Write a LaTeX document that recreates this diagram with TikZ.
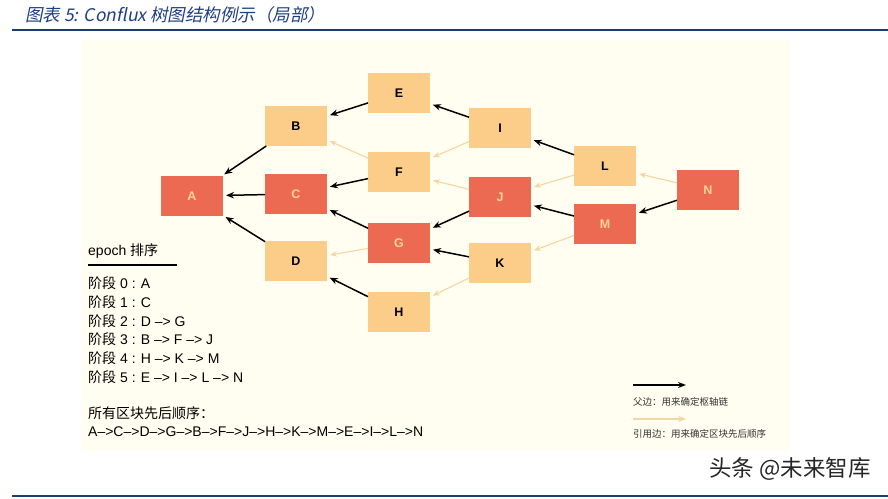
\documentclass[tikz,border=0pt]{standalone}
\usepackage{fontspec}
\setmainfont{Liberation Sans}
\newfontfamily\cjk{Noto Sans CJK SC}
\newfontfamily\titlefont[FakeSlant=0.2]{Noto Sans CJK SC}
\usetikzlibrary{arrows.meta}
\definecolor{lightbox}{HTML}{FBCD88}
\definecolor{redbox}{HTML}{EC6A52}
\definecolor{redtext}{HTML}{FAD39B}
\definecolor{refline}{HTML}{F4D6A2}
\definecolor{bgcream}{HTML}{FFFEF0}
\definecolor{titleblue}{HTML}{1F3F86}
\definecolor{lineblue}{HTML}{1F3C70}
\newcommand{\zh}[1]{{\cjk #1}}
\tikzset{
  blk/.style={minimum width=62pt, minimum height=40pt, inner sep=0pt, outer sep=0pt,
    fill=lightbox, font=\fontsize{12.5}{15}\selectfont\bfseries},
  redblk/.style={blk, fill=redbox, text=redtext},
  parent/.style={-{Stealth[length=8pt,width=6.5pt]}, line width=1.5pt, black, shorten >=3pt},
  refe/.style={-{Stealth[length=7pt,width=5.5pt]}, line width=1.1pt, refline, shorten >=3pt},
  txt/.style={anchor=west, inner sep=0pt, font=\fontsize{14}{16}\selectfont},
  legtxt/.style={anchor=west, inner sep=0pt, text=black!80, font=\fontsize{9.5}{11}\selectfont\cjk}
}
\begin{document}
\begin{tikzpicture}[x=1pt,y=-1pt]
\useasboundingbox (0,0) rectangle (888,498);
\fill[white] (0,0) rectangle (888,498);
\fill[bgcream] (82,40) rectangle (790,451);
% title and rules
\node[anchor=west, inner sep=0pt, text=titleblue, font=\fontsize{17.5}{19}\selectfont\titlefont] (title) at (25,15) {图表 5:  Conflux 树图结构例示（局部）};
\draw[lineblue, line width=2pt] (12,30) -- (888,30);
\draw[lineblue, line width=2pt] (12,496) -- (888,496);
% nodes
\node[redblk] (A) at (192,196) {A};
\node[blk] (B) at (296,126) {B};
\node[redblk] (C) at (296,194) {C};
\node[blk] (D) at (296,261) {D};
\node[blk] (E) at (399,93) {E};
\node[blk] (F) at (399,172) {F};
\node[redblk] (G) at (399,243) {G};
\node[blk] (H) at (399,312) {H};
\node[blk] (I) at (500,128) {I};
\node[redblk] (J) at (500,197) {J};
\node[blk] (K) at (500,263) {K};
\node[blk] (L) at (605,166) {L};
\node[redblk] (M) at (605,224) {M};
\node[redblk] (N) at (708,190) {N};
% reference edges
\draw[refe] (F) -- (B);
\draw[refe] (G) -- (D);
\draw[refe] (I) -- (F);
\draw[refe] (J) -- (F);
\draw[refe] (K) -- (H);
\draw[refe] (L) -- (J);
\draw[refe] (M) -- (K);
\draw[refe] (N) -- (L);
% parent edges
\draw[parent] (B) -- (A);
\draw[parent] (C) -- (A);
\draw[parent] (D) -- (A);
\draw[parent] (E) -- (B);
\draw[parent] (F) -- (C);
\draw[parent] (G) -- (C);
\draw[parent] (H) -- (D);
\draw[parent] (I) -- (E);
\draw[parent] (J) -- (G);
\draw[parent] (K) -- (G);
\draw[parent] (L) -- (I);
\draw[parent] (M) -- (J);
\draw[parent] (N) -- (M);
% epoch list
\node[txt] (ep) at (88,251) {epoch \zh{排序}};
\coordinate (u1) at (88,265);
\coordinate (u2) at (177,265);
\draw[line width=1.5pt] (u1) -- (u2);
\node[txt] (s0) at (88,283) {\zh{阶段} 0 : A};
\node[txt] (s1) at (88,302) {\zh{阶段} 1 : C};
\node[txt] (s2) at (88,321) {\zh{阶段} 2 : D –> G};
\node[txt] (s3) at (88,339) {\zh{阶段} 3 : B –> F –> J};
\node[txt] (s4) at (88,358) {\zh{阶段} 4 : H –> K –> M};
\node[txt] (s5) at (88,377) {\zh{阶段} 5 : E –> I –> L –> N};
\node[txt] (all) at (88,413) {\zh{所有区块先后顺序：}};
\node[txt] (seq) at (88,432) {A–>C–>D–>G–>B–>F–>J–>H–>K–>M–>E–>I–>L–>N};
% legend
\coordinate (la1) at (633,385);
\coordinate (la2) at (686,385);
\draw[-{Stealth[length=8pt,width=6pt]}, line width=1.8pt] (la1) -- (la2);
\node[legtxt] (l1) at (633,402) {父边：用来确定枢轴链};
\coordinate (lb1) at (633,419);
\coordinate (lb2) at (686,419);
\draw[-{Stealth[length=8pt,width=6pt]}, line width=1.4pt, refline] (lb1) -- (lb2);
\node[legtxt] (l2) at (633,434) {引用边：用来确定区块先后顺序};
% watermark
\node[anchor=west, inner sep=0pt, text=black!85, font=\fontsize{22.5}{25}\selectfont\cjk] (wm) at (709,469) {头条 @未来智库};
\end{tikzpicture}
\end{document}
